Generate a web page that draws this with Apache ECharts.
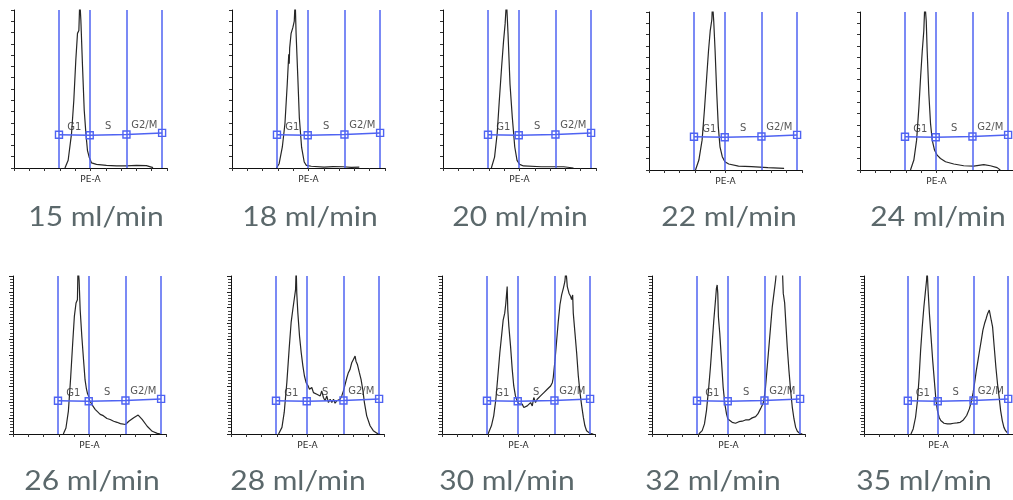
<!DOCTYPE html>
<html>
<head>
<meta charset="utf-8">
<script src="https://cdn.jsdelivr.net/npm/echarts@6/dist/echarts.min.js"></script>
<style>
  html, body { margin: 0; padding: 0; background: #ffffff; }
  #chart { width: 1013px; height: 500px; }
</style>
</head>
<body>
<div id="chart"></div>
<script>
// Flow rates (ml/min) of the ten cell-cycle histograms
const flowRates = [15, 18, 20, 22, 24, 26, 28, 30, 32, 35];

// PE-A histograms: [channel (axis units 0-10), relative count (0-100, peaks overflow the top)]
const h15 = [[3.33,0],[3.54,4.9],[3.76,21.8],[3.91,42.9],[4.04,68.3],[4.15,85.2],[4.24,87],[4.30,106],[4.37,93.7],[4.48,64],[4.59,36.6],[4.70,21.8],[4.80,11.2],[4.91,7],[5.07,3.2],[5.39,2.3],[6.04,1.7],[6.70,1.4],[7.35,1.3],[8.00,1.6],[8.65,1.5],[9.09,0.2]];
const h18 = [[2.91,0],[3.08,2.7],[3.29,13.3],[3.46,28],[3.61,53],[3.71,72],[3.74,66],[3.77,76],[3.86,85],[3.98,89],[4.07,93],[4.13,106],[4.19,85],[4.30,58],[4.40,32],[4.55,13],[4.72,3.8],[4.86,1.7],[5.18,1.1],[6.02,0.6],[6.60,0.9],[7.27,0.8],[7.80,0.4],[8.32,0.5]];
const h20 = [[3.16,0],[3.37,6.9],[3.54,21.7],[3.68,42.7],[3.83,63.8],[3.96,80.6],[4.06,91.2],[4.15,106],[4.25,85],[4.38,53],[4.53,32],[4.69,13.3],[4.84,4.8],[5.01,2.3],[5.26,1.3],[6.42,0.8],[7.89,0.8],[8.53,0]];
const h22 = [[3.04,0],[3.26,6.3],[3.47,18.9],[3.62,37.7],[3.77,58.7],[3.89,75.5],[4.00,88],[4.11,95.4],[4.15,106],[4.23,94.3],[4.32,75.5],[4.43,48.2],[4.53,27.3],[4.64,14.7],[4.79,8.4],[4.96,5.2],[5.21,3.8],[5.85,2.5],[6.70,2.1],[7.77,1.5],[8.83,1.0]];
const h24 = [[3.30,0],[3.52,6.3],[3.70,18.9],[3.85,39.8],[3.96,58.7],[4.07,75.5],[4.17,88],[4.24,106],[4.33,94.3],[4.39,75.5],[4.50,48.2],[4.61,29.4],[4.72,18.9],[4.87,12.6],[5.04,9.4],[5.26,7.3],[5.59,5.2],[6.13,3.8],[6.78,2.7],[7.43,2.5],[8.09,3.4],[8.52,2.7],[8.96,1.5],[9.17,0]];
const h26 = [[3.29,0],[3.46,3.8],[3.62,14.5],[3.77,35.9],[3.90,57.3],[4.01,74.4],[4.12,82.9],[4.21,85],[4.25,106],[4.32,97.4],[4.39,78.6],[4.50,61.5],[4.61,47],[4.71,34.2],[4.80,28.5],[4.87,25.6],[4.94,24.1],[5.00,21.4],[5.07,22.4],[5.15,18.8],[5.25,18.2],[5.37,15.6],[5.50,15.1],[5.70,12.4],[5.90,11.6],[6.14,9.8],[6.35,9.2],[6.58,8.1],[6.80,7.4],[7.02,6.6],[7.35,6],[7.57,8.1],[7.89,10.3],[8.18,12],[8.44,9.2],[8.77,4.9],[9.10,1.7],[9.43,0.4],[9.65,0]];
const h28 = [[3.11,0],[3.33,4.2],[3.48,13.8],[3.65,32.7],[3.80,53.7],[3.93,70.6],[4.04,78.8],[4.13,85.1],[4.22,91.4],[4.26,106],[4.30,89],[4.37,76.5],[4.48,61.8],[4.59,51.4],[4.70,43],[4.80,36.7],[4.91,32.5],[5.02,30.8],[5.13,28.3],[5.28,29.4],[5.39,26.2],[5.50,27.3],[5.61,25.2],[5.72,26.2],[5.83,24.1],[5.93,27.3],[6.04,23.1],[6.15,21],[6.26,24.1],[6.37,19.9],[6.48,22],[6.59,19.9],[6.70,22],[6.80,19.5],[6.91,21],[7.02,19.9],[7.13,22],[7.24,24.1],[7.35,27.3],[7.46,31.4],[7.57,35.6],[7.67,38.8],[7.78,40.9],[7.89,45.1],[8.00,47.2],[8.11,49.3],[8.17,46.1],[8.26,44],[8.39,38.8],[8.50,34.6],[8.61,28.3],[8.72,19.9],[8.87,11.5],[9.09,5.2],[9.30,2.1],[9.52,0.6],[9.74,0]];
const h30 = [[3.01,0],[3.23,5.2],[3.38,11.5],[3.52,22],[3.67,38.8],[3.78,51.4],[3.89,61.8],[4.00,72.3],[4.10,76.5],[4.17,82.6],[4.26,93.3],[4.30,78.6],[4.37,68.1],[4.48,55.6],[4.59,40.9],[4.69,30.4],[4.80,24.1],[4.91,21],[5.02,18.9],[5.13,17.8],[5.24,18.9],[5.35,16.8],[5.46,15.7],[5.57,17.8],[5.68,16.8],[5.79,19.9],[5.90,17.8],[6.00,23.1],[6.11,19.9],[6.22,22],[6.33,21],[6.44,24.1],[6.55,23.1],[6.66,26.2],[6.77,25.2],[6.88,28.3],[6.99,27.3],[7.10,30.4],[7.21,32.5],[7.27,35.6],[7.38,46.1],[7.49,58.7],[7.60,71.3],[7.71,81.8],[7.82,88.1],[7.93,92.2],[8.03,96.4],[8.10,104],[8.19,93.3],[8.30,89.1],[8.41,87],[8.47,85],[8.54,88],[8.58,76.5],[8.69,64],[8.80,51.4],[8.91,36.7],[9.02,26.2],[9.13,17.8],[9.24,10.5],[9.34,5.2],[9.45,2.1],[9.56,1],[9.67,0.4],[9.89,0]];
const h32 = [[3.06,0],[3.28,2.1],[3.43,6.4],[3.56,14.8],[3.71,29.7],[3.82,42.4],[3.93,57.2],[4.04,72],[4.15,84.7],[4.21,92.2],[4.26,94.3],[4.30,89],[4.34,74.2],[4.43,63.6],[4.54,46.6],[4.65,29.7],[4.76,19.1],[4.87,12.7],[4.96,9.5],[5.07,8.5],[5.24,7.4],[5.46,6.8],[5.68,7.8],[5.90,8.1],[6.11,8.9],[6.33,8.9],[6.55,10.2],[6.77,11],[6.92,12.7],[7.03,14.8],[7.14,16.9],[7.25,19.1],[7.31,21.2],[7.42,29.7],[7.53,42.4],[7.64,55.1],[7.75,67.8],[7.86,80.5],[7.97,89],[8.08,97.5],[8.14,104],[8.30,106],[8.41,102],[8.52,105],[8.58,89],[8.67,83],[8.76,68],[8.84,55.1],[8.95,40.3],[9.06,27.5],[9.17,16.9],[9.28,9.5],[9.39,4.2],[9.50,1.7],[9.65,0.4],[9.83,0]];
const h35 = [[3.15,0],[3.30,3.2],[3.46,10.6],[3.59,21.2],[3.70,36],[3.80,53],[3.91,67.8],[4.02,80.5],[4.11,89],[4.20,97.5],[4.24,104],[4.30,91.1],[4.39,76.3],[4.50,61.4],[4.61,46.6],[4.72,33.9],[4.83,21.2],[4.93,14.8],[5.04,10.6],[5.15,8.5],[5.37,6.8],[5.59,6.4],[5.80,6.4],[6.02,6.8],[6.24,7],[6.46,7.4],[6.67,8.9],[6.89,11.7],[7.07,15.9],[7.22,21.2],[7.33,26.5],[7.43,32.8],[7.54,40.3],[7.65,46.6],[7.76,53],[7.87,59.3],[7.98,65.7],[8.09,69.9],[8.20,73.1],[8.30,76.3],[8.41,78.4],[8.48,79.4],[8.54,72],[8.63,67.8],[8.74,55.1],[8.85,42.4],[8.96,31.8],[9.07,23.3],[9.17,14.8],[9.28,8.5],[9.39,4.2],[9.50,2.1],[9.61,0.8]];

const histograms = [h15, h18, h20, h22, h24, h26, h28, h30, h32, h35];

// Gate boundaries on the PE-A axis and the height of the gate bar at each boundary
const gateEdges = [2.94, 4.95, 7.35, 9.68];
const gateLevels = [21, 20.7, 21.2, 22.2];
const gateNames = ['G1', 'S', 'G2/M'];

// Panel placement (pixels)
const panelLeft = [14, 232, 443, 649, 860, 13, 231, 442, 652, 864];
const panelTop = [10, 10, 10, 12, 12, 276, 276, 276, 276, 276];
const titleX = [96, 310, 520, 729, 938, 92, 298, 507, 713, 924];
const titleY = [217, 217, 217, 217, 217, 481, 481, 481, 481, 481];
const PANEL_W = 153, PANEL_H = 158;

const GATE_BLUE = '#4f63f2';
const CURVE = '#262626';

const chart = echarts.init(document.getElementById('chart'), null, { renderer: 'canvas' });

const grid = [], xAxis = [], yAxis = [], series = [], graphic = [];

flowRates.forEach((rate, i) => {
  const bottomRow = i >= 5;
  grid.push({ left: panelLeft[i], top: panelTop[i], width: PANEL_W, height: PANEL_H, containLabel: false });

  xAxis.push({
    gridIndex: i, type: 'value', min: 0, max: 10, interval: 1,
    name: 'PE-A', nameLocation: 'middle', nameGap: 7,
    nameTextStyle: { fontFamily: 'DejaVu Sans', fontSize: 9, color: '#2a2a2a', verticalAlign: 'top' },
    axisLine: { show: true, onZero: false, lineStyle: { color: '#111', width: 1 } },
    axisTick: { show: true, inside: false, length: 3, lineStyle: { color: '#333', width: 1 } },
    axisLabel: { show: false },
    splitLine: { show: false }
  });

  yAxis.push(bottomRow ? {
    gridIndex: i, type: 'value', min: 0, max: 100, interval: 10,
    axisLine: { show: true, lineStyle: { color: '#111', width: 1 } },
    axisTick: { show: true, length: 4, lineStyle: { color: '#222' } },
    minorTick: { show: true, splitNumber: 5, length: 3, lineStyle: { color: '#444' } },
    axisLabel: { show: false },
    splitLine: { show: false }
  } : {
    gridIndex: i, type: 'value', min: 0, max: 100, interval: 100 / 14,
    axisLine: { show: true, lineStyle: { color: '#111', width: 1 } },
    axisTick: { show: true, length: 3, lineStyle: { color: '#333' } },
    axisLabel: { show: false },
    splitLine: { show: false }
  });

  // histogram trace with the gate boundaries as vertical markers
  series.push({
    type: 'line', xAxisIndex: i, yAxisIndex: i,
    data: histograms[i], showSymbol: false, symbol: 'none', clip: true,
    lineStyle: { color: CURVE, width: 1.2 },
    z: 3,
    markLine: {
      silent: true, symbol: ['none', 'none'], animation: false,
      label: { show: false },
      lineStyle: { color: GATE_BLUE, width: 1.5, type: 'solid' },
      data: gateEdges.map(x => ({ xAxis: x }))
    }
  });

  // gate bar with square handles
  series.push({
    type: 'line', xAxisIndex: i, yAxisIndex: i,
    data: gateEdges.map((x, k) => [x, gateLevels[k]]),
    symbol: 'rect', symbolSize: 7, showSymbol: true,
    itemStyle: { color: 'rgba(255,255,255,0)', borderColor: GATE_BLUE, borderWidth: 1.4 },
    lineStyle: { color: GATE_BLUE, width: 1.5 },
    z: 4
  });

  // gate names above each segment
  series.push({
    type: 'scatter', xAxisIndex: i, yAxisIndex: i,
    symbolSize: 0,
    data: gateNames.map((n, k) => ({
      name: n,
      value: [(gateEdges[k] + gateEdges[k + 1]) / 2, (gateLevels[k] + gateLevels[k + 1]) / 2]
    })),
    label: {
      show: true, position: 'top', distance: 3,
      formatter: p => p.name,
      fontFamily: 'DejaVu Sans', fontSize: 10, color: '#2a2a2a'
    },
    z: 5
  });

  graphic.push({
    type: 'text', x: titleX[i], y: titleY[i], scaleX: 1.11,
    style: {
      text: rate + ' ml/min',
      font: '27px Lato',
      fill: '#5b686b',
      textAlign: 'center', textVerticalAlign: 'middle'
    }
  });
});

chart.setOption({
  animation: false,
  backgroundColor: '#ffffff',
  grid, xAxis, yAxis, series, graphic
});
</script>
</body>
</html>
